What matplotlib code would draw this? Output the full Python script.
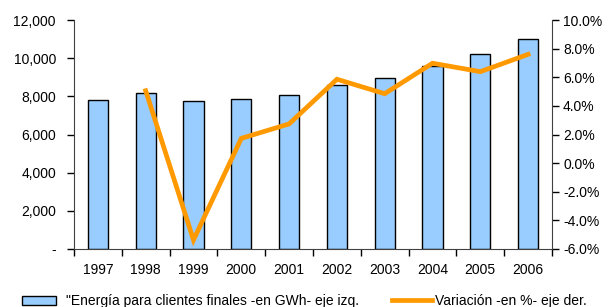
import matplotlib.pyplot as plt
from matplotlib.ticker import FuncFormatter, FixedLocator
from matplotlib.patches import Patch
from matplotlib.lines import Line2D

years = ['1997', '1998', '1999', '2000', '2001', '2002', '2003', '2004', '2005', '2006']
energia = [7830, 8160, 7760, 7880, 8090, 8600, 8950, 9610, 10220, 10990]
var_years = years[1:]
variacion = [5.06, -5.37, 1.73, 2.74, 5.86, 4.85, 6.98, 6.39, 7.6]

plt.rcParams['font.family'] = ['Liberation Sans', 'DejaVu Sans']

fig = plt.figure(figsize=(6.15, 3.07), dpi=100)
ax = fig.add_axes([74 / 615, 1 - 249 / 307, 478 / 615, 229 / 307])

x = list(range(len(years)))
ax.bar(x, energia, width=0.42, color='#99CCFF', edgecolor='black', linewidth=1.0, zorder=2)
ax.set_xlim(-0.5, len(years) - 0.5)
ax.set_ylim(0, 12000)
ax.set_yticks(range(0, 12001, 2000))
ax.yaxis.set_major_formatter(FuncFormatter(lambda v, p: '-' if v == 0 else f'{int(v):,}'))
ax.set_xticks(x)
ax.set_xticklabels(years)
ax.xaxis.set_minor_locator(FixedLocator([i - 0.5 for i in range(len(years) + 1)]))
ax.tick_params(axis='x', which='major', length=0, pad=10, labelsize=10)
ax.tick_params(axis='x', which='minor', length=5, width=1, direction='out')
ax.tick_params(axis='y', length=5, width=1, direction='out', labelsize=10, pad=8)
ax.spines['top'].set_visible(False)
ax.spines['right'].set_visible(False)
for s in ['left', 'bottom']:
    ax.spines[s].set_color('#404040')

ax2 = ax.twinx()
vx = [years.index(y) for y in var_years]
ax2.plot(vx, variacion, color='#FF9900', linewidth=3.4, zorder=3, solid_joinstyle='miter')
ax2.set_ylim(-6, 10)
ax2.set_yticks(range(-6, 11, 2))
ax2.yaxis.set_major_formatter(FuncFormatter(lambda v, p: f'{v:.1f}%'))
ax2.tick_params(axis='y', length=5, width=1, direction='out', labelsize=10, pad=3)
ax2.spines['top'].set_visible(False)
ax2.spines['left'].set_visible(False)
ax2.spines['bottom'].set_visible(False)
ax2.spines['right'].set_color('#404040')

h1 = Patch(facecolor='#99CCFF', edgecolor='black', linewidth=1.0)
h2 = Line2D([], [], color='#FF9900', linewidth=3.4)
fig.legend([h1], ['"Energía para clientes finales -en GWh- eje izq.'],
           loc='center left', bbox_to_anchor=(22 / 615, 1 - 301 / 307),
           frameon=False, fontsize=10, handlelength=2.45, handleheight=0.6,
           handletextpad=0.72, borderpad=0, borderaxespad=0)
fig.legend([h2], ['Variación -en %- eje der.'],
           loc='center left', bbox_to_anchor=(392 / 615, 1 - 301 / 307),
           frameon=False, fontsize=10, handlelength=2.88,
           handletextpad=0.22, borderpad=0, borderaxespad=0)

fig.savefig('out.png', dpi=100)
